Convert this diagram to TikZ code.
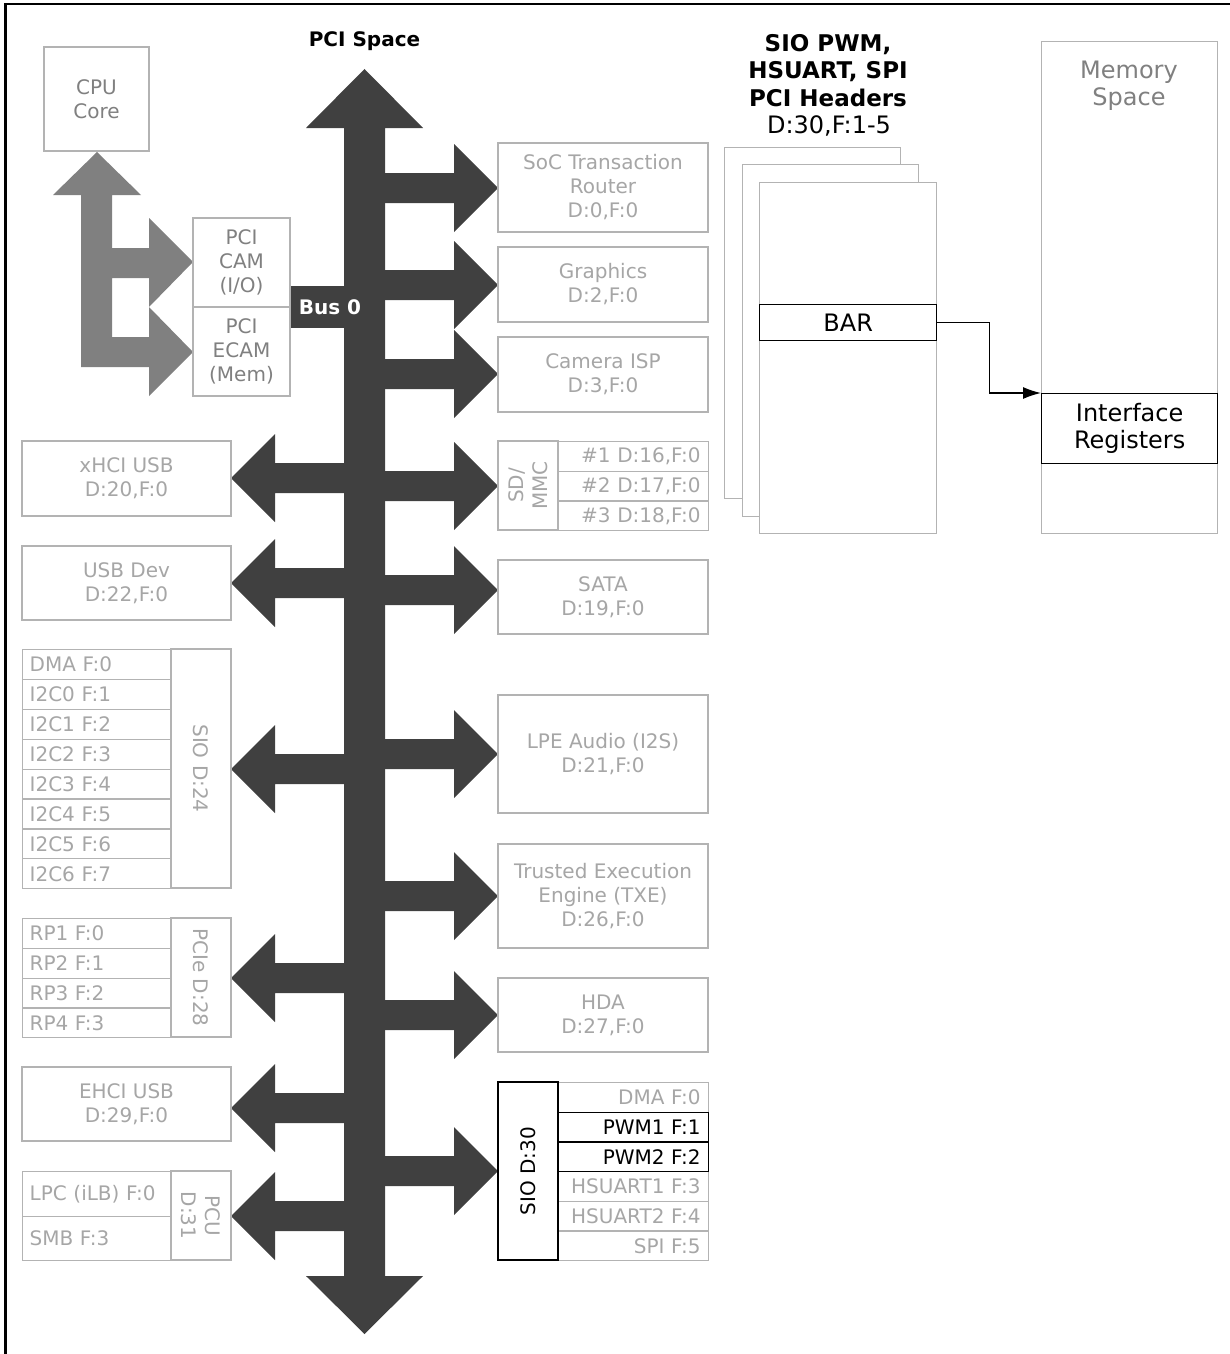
\documentclass[tikz,border=0pt]{standalone}
\usepackage{fontspec}
\setmainfont{DejaVu Sans}
\usepackage{tikz}
\usetikzlibrary{arrows.meta}
\usepackage{xcolor}

\definecolor{busdark}{HTML}{404040}
\definecolor{busgrey}{HTML}{808080}
\definecolor{lineg}{HTML}{B3B3B3}
\definecolor{txtg}{HTML}{A6A6A6}
\definecolor{txtmid}{HTML}{808080}

\newcommand{\fsmall}{\fontsize{20}{24}\selectfont}
\newcommand{\flarge}{\fontsize{24}{27}\selectfont}
\newcommand{\fbold}{\fontsize{20}{24}\selectfont\bfseries}
\newcommand{\fhead}{\fontsize{23}{27.5}\selectfont\bfseries}

\begin{document}
\begin{tikzpicture}[x=1pt, y=-1pt, >={Latex[length=18pt,width=12pt]},
  gbox/.style={draw=lineg, line width=1.3pt, fill=white, text=txtg, font=\fsmall, align=center, inner sep=0pt},
  rowl/.style={draw=lineg, line width=1.3pt, text=txtg, font=\fsmall, anchor=north west,
    text width=135pt, inner xsep=7pt, inner ysep=0pt, align=left},
  rowr/.style={draw=lineg, line width=1.3pt, text=txtg, font=\fsmall, anchor=north west,
    text width=134pt, inner xsep=8pt, inner ysep=0pt, align=right, minimum height=29.67pt},
  bbox/.style={draw=black, line width=1.3pt, fill=white, text=black, inner sep=0pt, align=center},
  card/.style={draw=lineg, line width=1.3pt, fill=white, anchor=north west, inner sep=0pt}]
  \useasboundingbox (0,0) rectangle (1230,1354);

  % frame
  \draw[line width=2.3pt] (5.5,3.7) rectangle (1250,1370);

  % PCI bus 0 (dark)
  \node[font=\fbold, anchor=north, inner sep=0pt] (pcispace) at (364.5,31.5) {PCI Space};
  \fill[busdark] (344,128) -- (306,128) -- (364.5,69) -- (423,128) -- (385,128) -- (385,1276)
    -- (423,1276) -- (364.5,1334) -- (306,1276) -- (344,1276) -- cycle;
  \fill[busdark] (290,286) rectangle (344,328);
  \node[font=\fbold, text=white, anchor=north, inner sep=0pt] (bus0) at (330,299) {Bus 0};

  % branches to the right
  \fill[busdark] (384,173) -- (454,173) -- (454,144) -- (498,188) -- (454,232) -- (454,203) -- (384,203) -- cycle;
  \fill[busdark] (384,270) -- (454,270) -- (454,241) -- (498,285) -- (454,329) -- (454,300) -- (384,300) -- cycle;
  \fill[busdark] (384,359) -- (454,359) -- (454,330) -- (498,374) -- (454,418) -- (454,389) -- (384,389) -- cycle;
  \fill[busdark] (384,471) -- (454,471) -- (454,442) -- (498,486) -- (454,530) -- (454,501) -- (384,501) -- cycle;
  \fill[busdark] (384,575) -- (454,575) -- (454,546) -- (498,590) -- (454,634) -- (454,605) -- (384,605) -- cycle;
  \fill[busdark] (384,739) -- (454,739) -- (454,710) -- (498,754) -- (454,798) -- (454,769) -- (384,769) -- cycle;
  \fill[busdark] (384,881) -- (454,881) -- (454,852) -- (498,896) -- (454,940) -- (454,911) -- (384,911) -- cycle;
  \fill[busdark] (384,1000) -- (454,1000) -- (454,971) -- (498,1015) -- (454,1059) -- (454,1030) -- (384,1030) -- cycle;
  \fill[busdark] (384,1156) -- (454,1156) -- (454,1127) -- (498,1171) -- (454,1215) -- (454,1186) -- (384,1186) -- cycle;

  % branches to the left
  \fill[busdark] (345,463) -- (275,463) -- (275,434) -- (231,478) -- (275,522) -- (275,493) -- (345,493) -- cycle;
  \fill[busdark] (345,568) -- (275,568) -- (275,539) -- (231,583) -- (275,627) -- (275,598) -- (345,598) -- cycle;
  \fill[busdark] (345,754) -- (275,754) -- (275,725) -- (231,769) -- (275,813) -- (275,784) -- (345,784) -- cycle;
  \fill[busdark] (345,963) -- (275,963) -- (275,934) -- (231,978) -- (275,1022) -- (275,993) -- (345,993) -- cycle;
  \fill[busdark] (345,1093) -- (275,1093) -- (275,1064) -- (231,1108) -- (275,1152) -- (275,1123) -- (345,1123) -- cycle;
  \fill[busdark] (345,1201) -- (275,1201) -- (275,1172) -- (231,1216) -- (275,1260) -- (275,1231) -- (345,1231) -- cycle;

  % CPU side (grey arrow)
  \node[gbox, text=txtmid, minimum width=105pt, minimum height=104pt] (cpu) at (96.5,99) {CPU\\Core};
  \fill[busgrey] (81,195) -- (53,195) -- (97,152) -- (141,195) -- (112,195) -- (112,248) -- (149,248)
    -- (149,218) -- (193,262) -- (149,307) -- (149,278) -- (112,278) -- (112,337) -- (149,337)
    -- (149,307) -- (193,352) -- (149,396) -- (149,367) -- (81,367) -- cycle;
  \node[gbox, text=txtmid, minimum width=97pt, minimum height=89pt] (cam) at (241.5,262.5) {PCI\\CAM\\(I/O)};
  \node[gbox, text=txtmid, minimum width=97pt, minimum height=89pt] (ecam) at (241.5,351.5) {PCI\\ECAM\\(Mem)};

  % devices on the right
  \node[gbox, minimum width=210pt, minimum height=89pt] (soc) at (603,187.5) {SoC Transaction\\Router\\D:0,F:0};
  \node[gbox, minimum width=210pt, minimum height=75pt] (gfx) at (603,284.5) {Graphics\\D:2,F:0};
  \node[gbox, minimum width=210pt, minimum height=75pt] (isp) at (603,374.5) {Camera ISP\\D:3,F:0};
  \node[rowr] (sd1) at (558,441) {\#1 D:16,F:0};
  \node[rowr] (sd2) at (558,470.67) {\#2 D:17,F:0};
  \node[rowr] (sd3) at (558,500.33) {\#3 D:18,F:0};
  \node[gbox, rotate=90, minimum width=89pt, minimum height=60pt] (sdmmc) at (528,485.5) {SD/\\MMC};
  \node[gbox, minimum width=210pt, minimum height=74pt] (sata) at (603,597) {SATA\\D:19,F:0};
  \node[gbox, minimum width=210pt, minimum height=118pt] (lpe) at (603,754) {LPE Audio (I2S)\\D:21,F:0};
  \node[gbox, minimum width=210pt, minimum height=104pt] (txe) at (603,896) {Trusted Execution\\Engine (TXE)\\D:26,F:0};
  \node[gbox, minimum width=210pt, minimum height=74pt] (hda) at (603,1015) {HDA\\D:27,F:0};
  \node[rowr] (dma30) at (558,1082) {DMA F:0};
  \node[rowr] (hsu1) at (558,1171) {HSUART1 F:3};
  \node[rowr] (hsu2) at (558,1200.67) {HSUART2 F:4};
  \node[rowr] (spi) at (558,1230.33) {SPI F:5};
  \node[rowr, draw=black, text=black] (pwm1) at (558,1111.67) {PWM1 F:1};
  \node[rowr, draw=black, text=black] (pwm2) at (558,1141.33) {PWM2 F:2};
  \node[bbox, font=\fsmall, rotate=90, minimum width=178pt, minimum height=60pt] (sio30) at (528,1171) {SIO D:30};

  % devices on the left
  \node[gbox, minimum width=209pt, minimum height=75pt] (xhci) at (126.5,478.5) {xHCI USB\\D:20,F:0};
  \node[gbox, minimum width=209pt, minimum height=74pt] (usbdev) at (126.5,583) {USB Dev\\D:22,F:0};
  \node[rowl, minimum height=29.9pt] (dma24) at (22,649) {DMA F:0};
  \node[rowl, minimum height=29.9pt] (i2c0) at (22,678.875) {I2C0 F:1};
  \node[rowl, minimum height=29.9pt] (i2c1) at (22,708.75) {I2C1 F:2};
  \node[rowl, minimum height=29.9pt] (i2c2) at (22,738.625) {I2C2 F:3};
  \node[rowl, minimum height=29.9pt] (i2c3) at (22,768.5) {I2C3 F:4};
  \node[rowl, minimum height=29.9pt] (i2c4) at (22,798.375) {I2C4 F:5};
  \node[rowl, minimum height=29.9pt] (i2c5) at (22,828.25) {I2C5 F:6};
  \node[rowl, minimum height=29.9pt] (i2c6) at (22,858.125) {I2C6 F:7};
  \node[gbox, rotate=-90, minimum width=239pt, minimum height=60pt] (sio24) at (201,768.5) {SIO D:24};
  \node[rowl, minimum height=29.75pt] (rp1) at (22,918) {RP1 F:0};
  \node[rowl, minimum height=29.75pt] (rp2) at (22,947.75) {RP2 F:1};
  \node[rowl, minimum height=29.75pt] (rp3) at (22,977.5) {RP3 F:2};
  \node[rowl, minimum height=29.75pt] (rp4) at (22,1007.25) {RP4 F:3};
  \node[gbox, rotate=-90, minimum width=119pt, minimum height=60pt] (pcie) at (201,977.5) {PCIe D:28};
  \node[gbox, minimum width=209pt, minimum height=74pt] (ehci) at (126.5,1104) {EHCI USB\\D:29,F:0};
  \node[rowl, minimum height=45pt] (lpc) at (22,1171) {LPC (iLB) F:0};
  \node[rowl, minimum height=44pt] (smb) at (22,1216) {SMB F:3};
  \node[gbox, rotate=-90, minimum width=89pt, minimum height=60pt] (pcu) at (201,1215.5) {PCU\\D:31};

  % PCI headers and memory space
  \node[font=\fhead, align=center, anchor=north, inner sep=0pt] (hdrtitle) at (828,34) {SIO PWM,\\HSUART, SPI\\PCI Headers};
  \node[font=\flarge, anchor=north, inner sep=0pt] (hdrdev) at (829,115.5) {D:30,F:1-5};
  \node[card, minimum width=176pt, minimum height=351pt] (hdr3) at (724,147) {};
  \node[card, minimum width=176pt, minimum height=352pt] (hdr2) at (742,164) {};
  \node[card, minimum width=177pt, minimum height=351pt] (hdr1) at (759,182) {};
  \node[bbox, font=\flarge, anchor=north west, minimum width=177pt, minimum height=36pt] (bar) at (759,304) {BAR};
  \node[card, minimum width=176pt, minimum height=492pt] (mem) at (1041,41) {};
  \node[font=\flarge, text=txtmid, align=center, anchor=north, inner sep=0pt] (memtxt) at (1129,61) {Memory\\Space};
  \node[bbox, font=\flarge, anchor=north west, minimum width=176pt, minimum height=70pt] (ifr) at (1041,393) {Interface\\Registers};
  \draw[->, line width=1.3pt] (bar.east) -- ++(52,0) |- (ifr.north west);
\end{tikzpicture}
\end{document}
